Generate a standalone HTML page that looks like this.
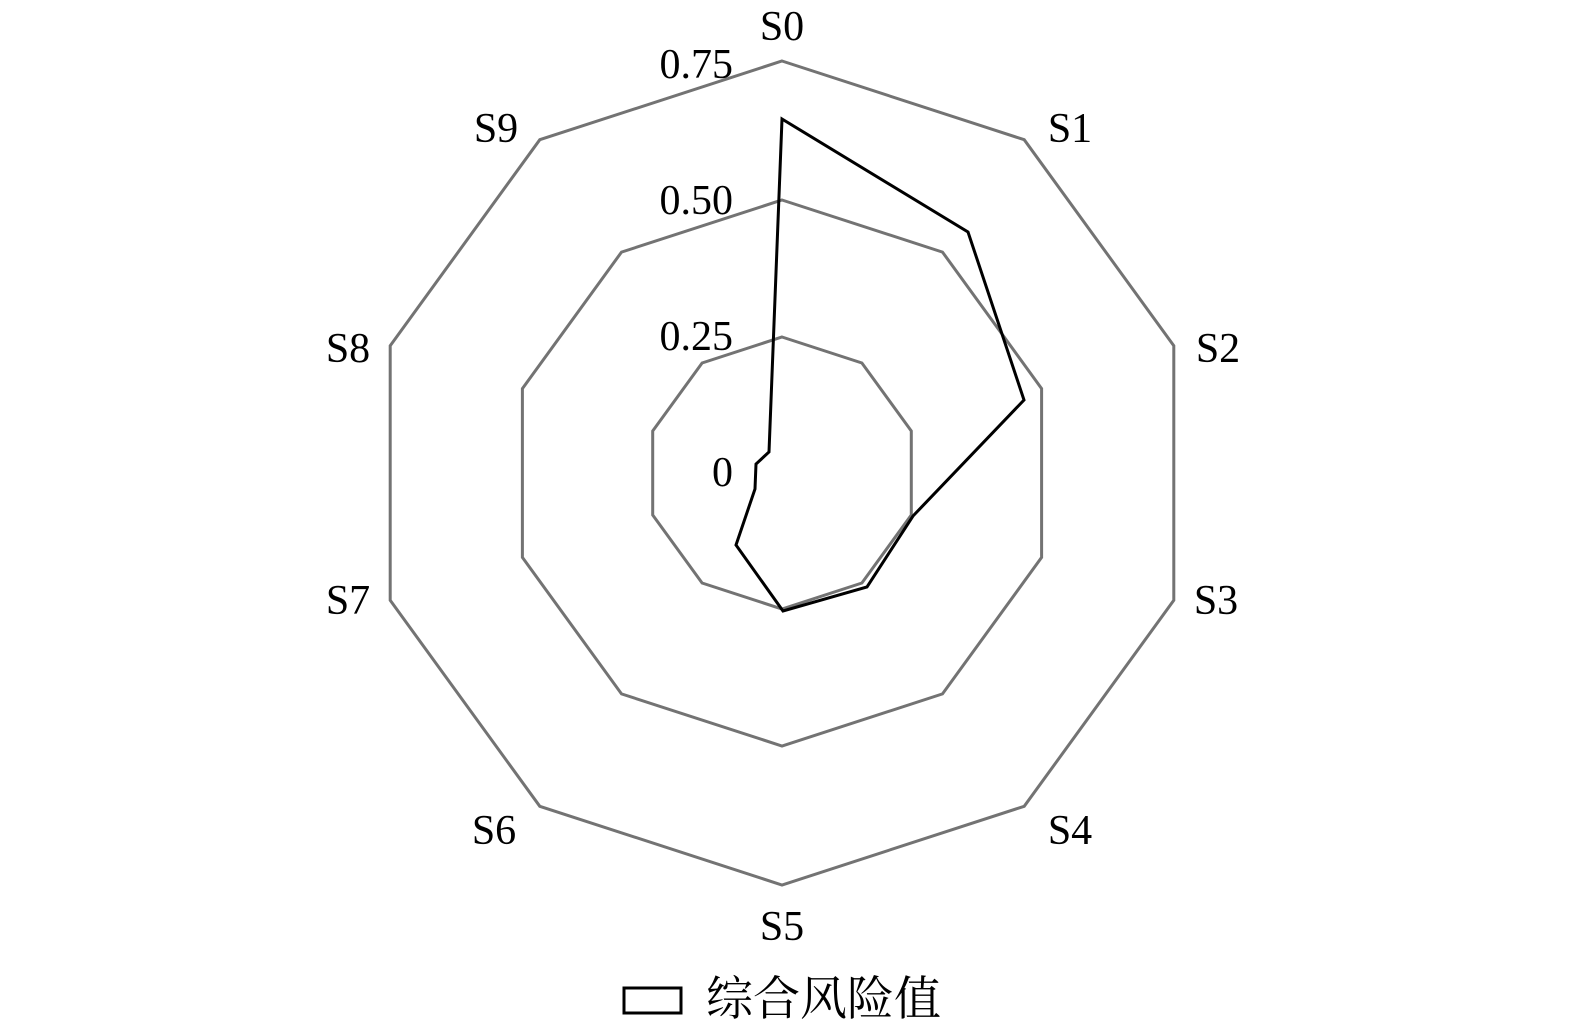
<!DOCTYPE html>
<html><head><meta charset="utf-8"><style>
html,body{margin:0;padding:0;background:#fff;}
svg{display:block;}
text{font-family:"Liberation Serif","Noto Serif CJK SC",serif;fill:#000;}
</style></head><body>
<svg width="1575" height="1034" viewBox="0 0 1575 1034" xmlns="http://www.w3.org/2000/svg">
<g fill="none" stroke="#737373" stroke-width="3">
<polygon points="782,61 1024.2,139.7 1173.8,345.7 1173.8,600.3 1024.2,806.3 782,885 539.8,806.3 390.2,600.3 390.2,345.7 539.8,139.7"/>
<polygon points="782,200 942.5,252.1 1041.6,388.6 1041.6,557.4 942.5,693.9 782,746 621.5,693.9 522.4,557.4 522.4,388.6 621.5,252.1"/>
<polygon points="782,337 861.9,363 911.3,431 911.3,515 861.9,583 782,609 702.1,583 652.7,515 652.7,431 702.1,363"/>
</g>
<polygon fill="none" stroke="#000" stroke-width="3" stroke-linejoin="miter" points="782,119 968,232 1024,400 913,516 867,587 783,611 736,545 755,489 756,464 769,452"/>
<g font-size="42" text-anchor="middle">
<text x="782" y="40">S0</text>
<text x="1070" y="142">S1</text>
<text x="1218" y="362">S2</text>
<text x="1216" y="614">S3</text>
<text x="1070" y="844">S4</text>
<text x="782" y="940">S5</text>
<text x="494" y="844">S6</text>
<text x="348" y="614">S7</text>
<text x="348" y="362">S8</text>
<text x="496" y="142">S9</text>
</g>
<g font-size="42" text-anchor="end">
<text x="733" y="78">0.75</text>
<text x="733" y="214">0.50</text>
<text x="733" y="350">0.25</text>
<text x="733" y="486">0</text>
</g>
<rect x="624" y="988" width="57" height="25" fill="none" stroke="#000" stroke-width="3"/>
<text x="706" y="1015" font-size="47">综合风险值</text>
</svg>
</body></html>
